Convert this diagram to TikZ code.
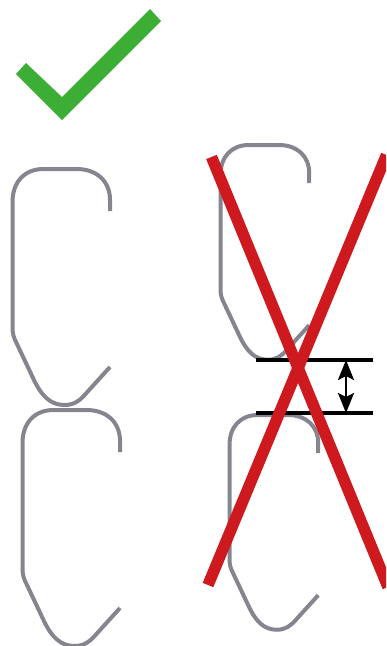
\documentclass[tikz,border=0pt]{standalone}
\usepackage{xcolor}
\usetikzlibrary{arrows.meta}
\definecolor{accGreen}{HTML}{3DAE35}
\definecolor{accRed}{HTML}{CE1A1E}
\definecolor{hookGray}{HTML}{85858F}
\tikzset{
  hookline/.style={draw=hookGray, line width=3pt},
  crossbar/.style={draw=accRed, line width=8.6pt},
  gaprule/.style={draw=black, line width=2.4pt},
  hook/.pic={
    \path[hookline] (97.5, 42) -- (97.5, 31)
      .. controls (97.5, 12) and (84, 0) .. (64, 0)
      -- (31, 0)
      .. controls (12, 0) and (0, 13) .. (0, 33)
      -- (0, 157)
      .. controls (0, 165) and (1, 168) .. (4, 174)
      -- (21, 210)
      .. controls (29, 227) and (38, 236) .. (52, 236)
      .. controls (61, 236) and (67, 232) .. (73, 225)
      -- (97.5, 198);
  }
}
\begin{document}
\begin{tikzpicture}[x=0.75pt, y=-0.75pt]
  \useasboundingbox (0, 0) rectangle (386, 646);
  \clip (0, 0) rectangle (386, 646);

  % LEFT: hooks that clear each other
  \fill[accGreen] (16, 74) -- (26, 63) -- (62, 97) -- (150, 9) -- (161, 21) -- (62, 120) -- cycle;
  \pic[scale=1] at (12.5, 169) {hook};
  \pic[scale=1] at (22.5, 410) {hook};

  % RIGHT: smaller hooks, too close
  \pic[scale=0.91] at (220.5, 145) {hook};
  \pic[scale=0.91] at (229.5, 415) {hook};

  % gap between the two hooks
  \coordinate (ruleTopL) at (256, 360);
  \coordinate (ruleTopR) at (373, 360);
  \coordinate (ruleBotL) at (256, 413);
  \coordinate (ruleBotR) at (373, 413);
  \coordinate (gapTop) at (346, 360);
  \coordinate (gapBot) at (346, 413);
  \draw[gaprule] (ruleTopL) -- (ruleTopR);
  \draw[gaprule] (ruleBotL) -- (ruleBotR);
  \draw[{Stealth[length=15pt, width=12pt, inset=3pt]}-{Stealth[length=15pt, width=12pt, inset=3pt]}, line width=2pt] (gapTop) -- (gapBot);

  % red cross on top
  \draw[crossbar] (211.5, 157) -- (388, 587);
  \draw[crossbar] (386.5, 155) -- (208, 585);
\end{tikzpicture}
\end{document}
